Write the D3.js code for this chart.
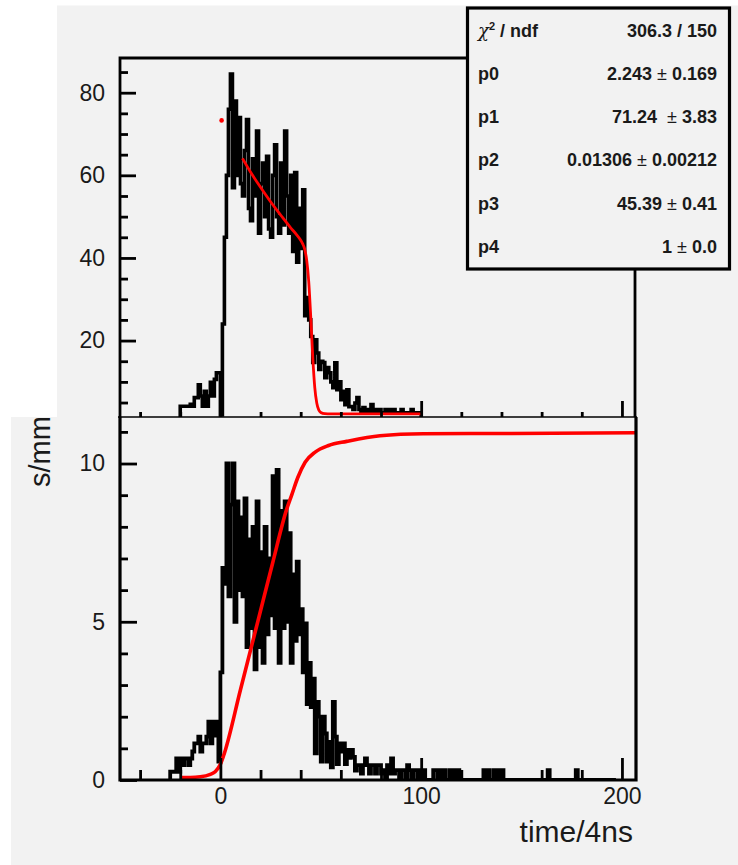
<!DOCTYPE html>
<html>
<head>
<script src="https://cdnjs.cloudflare.com/ajax/libs/d3/7.8.5/d3.min.js"></script>
<style>
  body { margin: 0; background: #fff; }
  svg text { font-family: "Liberation Sans", Arial, sans-serif; fill: #1a1a1a; }
</style>
</head>
<body>
<svg id="chart" width="738" height="865"></svg>
<script>
// ---- data ----
// top histogram: one bin per time unit, first bin starts at topFirstBin
const topFirstBin = -20;
const topCounts = [
  4.1, 4.1, 4.1, 4.1, 4.1, 4.6, 4.1, 6.2, 6.2, 9.3,
  6.6, 4.1, 7.7, 4.1, 6.6, 9.9, 6.6, 10.6, 12.2, 12.2,
  2.0, 24, 45, 60, 76, 84.5, 57, 78, 60, 74,
  58, 55, 66, 73.5, 52, 49, 64, 55, 70.7, 46,
  58, 63, 50, 64.6, 47, 45, 60, 67.4, 50, 46,
  63, 48, 70.7, 55, 46, 60, 41.6, 60.7, 39, 52,
  42.3, 56.5, 26, 30.4, 25, 21, 14.7, 20.2, 17, 13,
  15, 14.7, 11, 13.5, 12.2, 10, 8.6, 14.6, 8.1, 10,
  5.7, 7.7, 4.5, 8.1, 4, 4, 3.3, 4.9, 6.2, 3.3,
  2.5, 3.8, 2.5, 3.3, 2.5, 4.5, 2.5, 3.3, 2.5, 3.3,
  2.5, 2.5, 3.3, 2.5, 3.3, 2.5, 3.3, 2.5, 2.5, 2.5,
  3.3, 2.5, 2.5, 2.5, 2.5, 3.3, 2.5, 2.5, 2.5, 2.5
];
// fit curve drawn on the top histogram
const fitX = [11, 15, 20, 25, 30, 35, 38, 40, 41, 42, 43, 44, 45, 46, 47, 48, 49, 50, 52, 55, 100];
const fitY = [64.1, 60.8, 57.1, 53.6, 50.4, 47.3, 45.6, 44.3, 43.4, 42.1, 39.4, 34.3, 25.8, 16.0, 8.7, 4.9, 3.2, 2.6, 2.3, 2.25, 2.24];
const markerPoint = [0.6, 73.3];

// bottom histogram
const botFirstBin = -25;
const botCounts = [
  0.26, 0.26, 0.26, 0.68, 0.26, 0.68, 0.47, 0.68, 0.68, 0.47,
  0.68, 0.9, 1.16, 1.16, 1.37, 0.9, 1.16, 1.16, 1.37, 1.84,
  1.16, 1.84, 1.4, 1.84, 0.58,
  3.4, 6.7, 6.2, 10, 5.8, 8.7, 10, 5.0, 8.8, 6.0,
  8.3, 5.8, 8.9, 4.2, 7.6, 4.8, 8.0, 3.5, 8.8, 4.2,
  7.2, 3.7, 8.0, 4.6, 7.0, 5.2, 9.6, 4.8, 9.8, 3.7,
  8.5, 4.8, 8.8, 5.0, 7.8, 3.7, 6.5, 4.4, 6.9, 4.6,
  5.4, 3.4, 4.95, 2.4, 3.7, 2.3, 3.2, 0.84, 2.47, 2.0,
  0.58, 2.0, 1.47, 0.58, 1.2, 0.4, 2.47, 1.37, 0.5, 1.16,
  0.9, 1.16, 0.5, 0.95, 0.7, 0.95, 0.73, 0.3, 0.47, 0.47,
  0.2, 0.47, 0.68, 0.47, 0.2, 0.47, 0.47, 0.2, 0.47, 0.47,
  0.2, 0.31, 0, 0.47, 0.2, 0.68, 0.2, 0.31, 0.31, 0,
  0.31, 0.31, 0, 0.47, 0.31, 0, 0.31, 0.31, 0, 0.31,
  0, 0.31, 0, 0, 0, 0, 0.31, 0.31, 0, 0.31,
  0, 0.31, 0, 0, 0.31, 0, 0.31, 0, 0.31, 0,
  0, 0, 0, 0, 0, 0, 0, 0, 0, 0,
  0, 0.31, 0, 0.31, 0, 0, 0.31, 0, 0.31, 0,
  0.31, 0, 0, 0, 0, 0, 0, 0, 0, 0,
  0, 0, 0, 0, 0, 0, 0, 0, 0, 0,
  0, 0, 0, 0.31, 0, 0, 0, 0, 0, 0,
  0, 0, 0, 0, 0, 0, 0, 0.31, 0, 0,
  0, 0, 0, 0, 0, 0, 0, 0, 0, 0,
  0, 0, 0, 0, 0, 0, 0
];
// red cumulative curve on the bottom plot
const cumX = [-20, -15, -10, -5, -2.6, 0, 1.5, 10, 20, 26, 33, 35.5, 38.5, 42.2, 47.2, 53.9, 62.9, 79.5, 101, 145, 207];
const cumY = [0.08, 0.08, 0.1, 0.18, 0.26, 0.5, 0.75, 2.85, 5.35, 6.85, 8.55, 9.0, 9.55, 10.04, 10.36, 10.57, 10.7, 10.88, 10.94, 10.95, 10.97];

const xMajor = [0, 100, 200];
const xMinor = [-40, -20, 20, 40, 60, 80, 120, 140, 160, 180];
const topYMajor = [20, 40, 60, 80];
const topYMinor = [5, 10, 15, 25, 30, 35, 45, 50, 55, 65, 70, 75, 85];
const botYMajor = [0, 5, 10];
const botYMinor = [1, 2, 3, 4, 6, 7, 8, 9, 11];

const statNames = ["chi2", "p0", "p1", "p2", "p3", "p4"];
const statValues = ["306.3 / 150", "2.243 ± 0.169", "71.24  ± 3.83", "0.01306 ± 0.00212", "45.39 ± 0.41", "1 ± 0.0"];

// ---- scales ----
const svg = d3.select("#chart");
const x = d3.scaleLinear().domain([-50, 207]).range([120, 636]);
const yTop = d3.scaleLinear().domain([1.5, 88.4]).range([417, 58]);
const yBot = d3.scaleLinear().domain([0, 11.47]).range([780, 417]);

const defs = svg.append("defs");
defs.append("clipPath").attr("id", "clipTop")
  .append("rect").attr("x", 120).attr("y", 58).attr("width", 515).attr("height", 359);
defs.append("clipPath").attr("id", "clipBot")
  .append("rect").attr("x", 120).attr("y", 417).attr("width", 516).attr("height", 363);

function stepPath(first, counts, y) {
  const pts = [[first, 0]];
  counts.forEach((c, i) => pts.push([first + i, c]));
  pts.push([first + counts.length, 0]);
  return d3.line().x(d => x(d[0])).y(d => y(d[1])).curve(d3.curveStepAfter)(pts);
}

function styleAxis(g, size) {
  g.select(".domain").remove();
  g.selectAll("line").attr("stroke", "#000").attr("stroke-width", 2.8);
  g.attr("font-family", "Liberation Sans, Arial, sans-serif").attr("font-size", size);
  g.selectAll("text").attr("fill", "#1a1a1a");
}

// ---- bottom panel ----
svg.append("rect").attr("x", 11).attr("y", 417).attr("width", 727).attr("height", 448).attr("fill", "#f2f2f2");

svg.append("path")
  .attr("d", stepPath(botFirstBin, botCounts, yBot))
  .attr("fill", "none").attr("stroke", "#000").attr("stroke-width", 3.8)
  .attr("clip-path", "url(#clipBot)");

svg.append("path")
  .attr("d", d3.line().x(d => x(d[0])).y(d => yBot(d[1])).curve(d3.curveMonotoneX)(cumX.map((v, i) => [v, cumY[i]])))
  .attr("fill", "none").attr("stroke", "#ff0000").attr("stroke-width", 3.6)
  .attr("clip-path", "url(#clipBot)");

const botYAxis = svg.append("g").attr("transform", "translate(120,0)")
  .call(d3.axisLeft(yBot).tickValues(botYMajor).tickSizeInner(-17).tickSizeOuter(0).tickPadding(15));
styleAxis(botYAxis, 23);
const botYMin = svg.append("g").attr("transform", "translate(120,0)")
  .call(d3.axisLeft(yBot).tickValues(botYMinor).tickSizeInner(-8).tickSizeOuter(0).tickFormat(""));
styleAxis(botYMin, 23);

const botXAxis = svg.append("g").attr("transform", "translate(0,780)")
  .call(d3.axisBottom(x).tickValues(xMajor).tickSizeInner(-22).tickSizeOuter(0).tickPadding(8));
styleAxis(botXAxis, 23);
const botXMin = svg.append("g").attr("transform", "translate(0,780)")
  .call(d3.axisBottom(x).tickValues(xMinor).tickSizeInner(-10).tickSizeOuter(0).tickFormat(""));
styleAxis(botXMin, 23);

// bottom frame
svg.append("path")
  .attr("d", "M120,417 V780 H636 V417")
  .attr("fill", "none").attr("stroke", "#000").attr("stroke-width", 3.2);

svg.append("text").attr("x", 633).attr("y", 842).attr("text-anchor", "end")
  .attr("font-size", 30).text("time/4ns");
svg.append("text").attr("transform", "translate(50,487) rotate(-90)")
  .attr("font-size", 29).text("s/mm");

// ---- top panel (drawn over the bottom one) ----
svg.append("rect").attr("x", 0).attr("y", 0).attr("width", 738).attr("height", 417).attr("fill", "#fff");
svg.append("rect").attr("x", 57).attr("y", 5.5).attr("width", 681).attr("height", 411.5).attr("fill", "#f2f2f2");

svg.append("path")
  .attr("d", stepPath(topFirstBin, topCounts, yTop))
  .attr("fill", "none").attr("stroke", "#000").attr("stroke-width", 3.6)
  .attr("clip-path", "url(#clipTop)");

svg.append("path")
  .attr("d", d3.line().x(d => x(d[0])).y(d => yTop(d[1])).curve(d3.curveMonotoneX)(fitX.map((v, i) => [v, fitY[i]])))
  .attr("fill", "none").attr("stroke", "#ff0000").attr("stroke-width", 2.8)
  .attr("clip-path", "url(#clipTop)");

svg.append("circle")
  .attr("cx", x(markerPoint[0])).attr("cy", yTop(markerPoint[1])).attr("r", 2.3)
  .attr("fill", "#ff0000");

const topYAxis = svg.append("g").attr("transform", "translate(120,0)")
  .call(d3.axisLeft(yTop).tickValues(topYMajor).tickSizeInner(-16).tickSizeOuter(0).tickPadding(15));
styleAxis(topYAxis, 23);
const topYMin = svg.append("g").attr("transform", "translate(120,0)")
  .call(d3.axisLeft(yTop).tickValues(topYMinor).tickSizeInner(-8).tickSizeOuter(0).tickFormat(""));
styleAxis(topYMin, 23);

const topXAxis = svg.append("g").attr("transform", "translate(0,417)")
  .call(d3.axisBottom(x).tickValues(xMajor).tickSizeInner(-16).tickSizeOuter(0).tickFormat(""));
styleAxis(topXAxis, 23);
const topXMin = svg.append("g").attr("transform", "translate(0,417)")
  .call(d3.axisBottom(x).tickValues(xMinor).tickSizeInner(-5).tickSizeOuter(0).tickFormat(""));
styleAxis(topXMin, 23);

// top frame
svg.append("path")
  .attr("d", "M120,417 V58 H470")
  .attr("fill", "none").attr("stroke", "#000").attr("stroke-width", 2.8);
svg.append("line").attr("x1", 635).attr("x2", 635).attr("y1", 268).attr("y2", 417)
  .attr("stroke", "#000").attr("stroke-width", 2.8);
// shared boundary line
svg.append("line").attr("x1", 118).attr("x2", 637).attr("y1", 417).attr("y2", 417)
  .attr("stroke", "#000").attr("stroke-width", 1.6);

// ---- stats box ----
const stats = svg.append("g");
stats.append("rect").attr("x", 467.5).attr("y", 8).attr("width", 262).attr("height", 261)
  .attr("fill", "#f2f2f2").attr("stroke", "#000").attr("stroke-width", 3.2);

statNames.forEach((name, i) => {
  const yb = 36.5 + i * 43.3;
  const lab = stats.append("text").attr("x", 478).attr("y", yb)
    .attr("font-size", 18).attr("font-weight", "bold");
  if (name === "chi2") {
    lab.append("tspan").attr("font-family", "DejaVu Serif, serif").attr("font-style", "italic")
      .attr("font-weight", "normal").text("χ");
    lab.append("tspan").attr("font-size", 11).attr("dy", -7).text("2");
    lab.append("tspan").attr("dy", 7).text(" / ndf");
  } else {
    lab.text(name);
  }
  const val = stats.append("text").attr("x", 717).attr("y", yb)
    .attr("text-anchor", "end").attr("font-size", 18).attr("font-weight", "bold")
    .attr("xml:space", "preserve");
  const parts = statValues[i].split("±");
  if (parts.length === 2) {
    val.append("tspan").text(parts[0]);
    val.append("tspan").attr("font-weight", "normal").text("±");
    val.append("tspan").text(parts[1]);
  } else {
    val.text(statValues[i]);
  }
});
</script>
</body>
</html>
